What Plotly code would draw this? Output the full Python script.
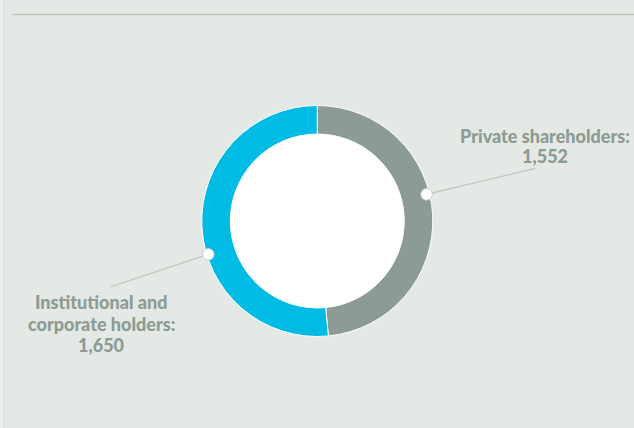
import math
import plotly.graph_objects as go

# Shareholder structure
labels = ["Private shareholders", "Institutional and corporate holders"]
values = [1552, 1650]
label_lines = [["Private shareholders:", "1,552"], ["Institutional and", "corporate holders:", "1,650"]]
colors = ["#8C9B93", "#00BBE3"]

W, H = 634, 428
BG = "#E4E9E5"
TEXT = "#8C9B93"
LEADER = "#BFC7C1"

# Donut geometry (pixels)
cx, cy = 317.3, 221.0
r_out = 115.5
hole = 0.753
r_in = r_out * hole


def px(x):
    return x / W


def py(y):
    return 1 - y / H


fig = go.Figure()
fig.add_trace(go.Pie(
    labels=labels,
    values=values,
    hole=hole,
    sort=False,
    direction="clockwise",
    rotation=0,
    marker=dict(colors=colors, line=dict(color="#FFFFFF", width=1)),
    textinfo="none",
    hoverinfo="label+value",
    showlegend=False,
    domain=dict(x=[px(cx - r_out), px(cx + r_out)], y=[py(cy + r_out), py(cy - r_out)]),
))

shapes = []
# light strip along the left edge
shapes.append(dict(type="rect", xref="paper", yref="paper", x0=0, x1=px(3), y0=0, y1=1,
                   fillcolor="#ECEFEC", line=dict(width=0), layer="below"))
shapes.append(dict(type="line", xref="paper", yref="paper", x0=px(3.5), x1=px(3.5), y0=0, y1=1,
                   line=dict(color="#DADFDB", width=1), layer="below"))
# rule across the top
shapes.append(dict(type="line", xref="paper", yref="paper", x0=px(12), x1=1, y0=py(14.5), y1=py(14.5),
                   line=dict(color="#BFC7C1", width=1.6), layer="below"))
# white centre of the donut
shapes.append(dict(type="circle", xref="paper", yref="paper",
                   x0=px(cx - r_in), x1=px(cx + r_in), y0=py(cy + r_in), y1=py(cy - r_in),
                   fillcolor="#FFFFFF", line=dict(width=0), layer="below"))

# callouts: angle on the ring (clockwise from 12 o'clock) and leader end point
callouts = [
    dict(angle=76.3, rad=112.5, end=(535.0, 168.3)),
    dict(angle=253.0, rad=114.0, end=(110.7, 286.7)),
]
for c in callouts:
    a = math.radians(c["angle"])
    mx = cx + c["rad"] * math.sin(a)
    my = cy - c["rad"] * math.cos(a)
    ex, ey = c["end"]
    shapes.append(dict(type="line", xref="paper", yref="paper", x0=px(mx), y0=py(my), x1=px(ex), y1=py(ey),
                       line=dict(color=LEADER, width=1.2), layer="above"))
    rr = 5.8
    shapes.append(dict(type="circle", xref="paper", yref="paper",
                       x0=px(mx - rr), x1=px(mx + rr), y0=py(my + rr), y1=py(my - rr),
                       fillcolor="#FFFFFF", line=dict(color="#C9CFCB", width=1), layer="above"))

# label lines: centre x and baseline y of each line
label_pos = [
    dict(x=545.0, baselines=[141.7, 162.3]),
    dict(x=101.0, baselines=[308.3, 329.8, 351.0]),
]
annotations = []
for lines, pos in zip(label_lines, label_pos):
    for line, base in zip(lines, pos["baselines"]):
        annotations.append(dict(
            x=px(pos["x"]), y=py(base - 6.2), xref="paper", yref="paper",
            xanchor="center", yanchor="middle", text=line, showarrow=False,
            font=dict(family="Lato", size=18, weight=900, color=TEXT),
        ))

fig.update_layout(
    width=W, height=H,
    margin=dict(l=0, r=0, t=0, b=0),
    paper_bgcolor=BG,
    plot_bgcolor=BG,
    shapes=shapes,
    annotations=annotations,
)

fig.write_html("out.html", config=dict(displayModeBar=False))
